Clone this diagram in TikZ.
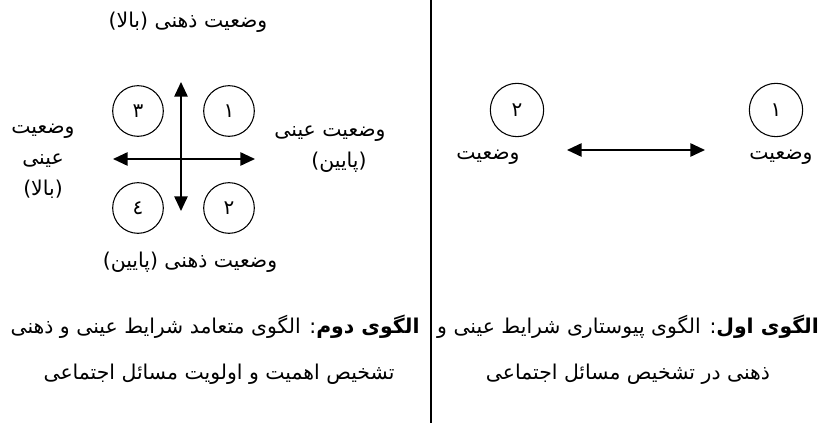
\documentclass[tikz,border=0pt]{standalone}
\usepackage{fontspec}
\setmainfont{DejaVu Sans}
\newfontfamily\fa[Script=Arabic]{DejaVu Sans}
\TeXXeTstate=1
\usetikzlibrary{arrows.meta}
\begin{document}
\begin{tikzpicture}[x=0.75pt,y=-0.75pt,
  lbl/.style={font=\fa\fontsize{15.3}{18}\selectfont, inner sep=0pt},
  captxt/.style={font=\fa\fontsize{15.3}{18}\selectfont, inner sep=0pt},
  num/.style={draw, circle, minimum size=38pt, line width=0.8pt, inner sep=0pt, font=\fa\fontsize{15}{18}\selectfont},
  numr/.style={num, minimum size=40pt},
  arr/.style={{Triangle[length=11pt,width=10pt]}-{Triangle[length=11pt,width=10pt]}, line width=1.3pt}]
\useasboundingbox (0,0) rectangle (826,423);
% divider
\coordinate (dtop) at (431,0);
\coordinate (dbot) at (431,423);
\draw[line width=1.2pt] (dtop) -- (dbot);
% ---- left: second pattern
\node[num] (c3) at (138,111) {\beginR ٣\endR};
\node[num] (c1) at (229,111) {\beginR ١\endR};
\node[num] (c4) at (138,208) {\beginR ٤\endR};
\node[num] (c2) at (229,208) {\beginR ٢\endR};
\coordinate (vt) at (181,82);
\coordinate (vb) at (181,211);
\coordinate (hl) at (113,159);
\coordinate (hr) at (255,159);
\draw[arr] (vb) -- (vt);
\draw[arr] (hl) -- (hr);
\node[lbl] (top) at (188,22) {\beginR وضعیت ذهنی (بالا)\endR};
\node[lbl] (bot) at (190,262) {\beginR وضعیت ذهنی (پایین)\endR};
\node[lbl] (l1) at (43,131) {\beginR وضعیت\endR};
\node[lbl] (l2) at (43,161) {\beginR عینی\endR};
\node[lbl] (l3) at (43,189) {\beginR (بالا)\endR};
\node[lbl] (r1) at (330,134) {\beginR وضعیت عینی\endR};
\node[lbl] (r2) at (339,162) {\beginR (پایین)\endR};
\node[captxt] (capL1) at (215,327) {\beginR{\bfseries الگوی دوم}: الگوی متعامد شرایط عینی و ذهنی\endR};
\node[captxt] (capL2) at (219,374) {\beginR تشخیص اهمیت و اولویت مسائل اجتماعی\endR};
% ---- right: first pattern
\node[numr] (rc2) at (517,110) {\beginR ٢\endR};
\node[numr] (rc1) at (776,110) {\beginR ١\endR};
\node[lbl] (rs2) at (488,157) {\beginR وضعیت\endR};
\node[lbl] (rs1) at (781,157) {\beginR وضعیت\endR};
\coordinate (al) at (567,150);
\coordinate (ar) at (705,150);
\draw[arr] (al) -- (ar);
\node[captxt] (capR1) at (628,327) {\beginR{\bfseries الگوی اول}: الگوی پیوستاری شرایط عینی و\endR};
\node[captxt] (capR2) at (628,374) {\beginR ذهنی در تشخیص مسائل اجتماعی\endR};
\end{tikzpicture}
\end{document}
